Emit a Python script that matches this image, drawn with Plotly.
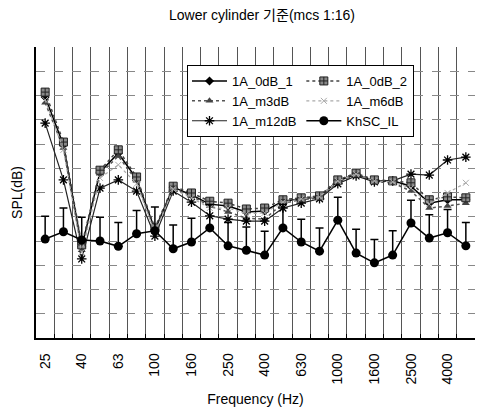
import plotly.graph_objects as go

freq = ["25", "31.5", "40", "50", "63", "80", "100", "125", "160", "200", "250", "315",
        "400", "500", "630", "800", "1000", "1250", "1600", "2000", "2500", "3150", "4000", "5000"]
tick_text = ["25", "", "40", "", "63", "", "100", "", "160", "", "250", "",
             "400", "", "630", "", "1000", "", "1600", "", "2500", "", "4000", ""]

a_0db_1 = [89.7, 79.8, 58.8, 74.2, 78.1, 72.8, 62.3, 71.1, 69.5, 67.6, 67.2, 66.0,
           66.2, 68.2, 68.7, 69.1, 72.4, 73.8, 72.4, 72.4, 71.3, 67.8, 68.5, 68.5]
a_0db_2 = [90.7, 80.4, 59.2, 74.6, 78.8, 73.2, 62.7, 71.3, 69.9, 68.2, 67.8, 66.6,
           66.8, 68.5, 68.9, 69.3, 72.6, 74.0, 72.6, 72.4, 72.0, 68.5, 69.1, 68.9]
a_m3db = [88.5, 79.2, 58.1, 73.8, 77.5, 72.4, 61.9, 70.9, 69.3, 67.2, 66.0, 64.7,
          64.5, 67.8, 68.5, 68.9, 72.2, 73.6, 72.2, 72.0, 70.3, 66.8, 67.2, 67.8]
a_m6db = [89.1, 78.8, 57.7, 73.0, 75.7, 71.8, 61.7, 70.7, 68.9, 66.8, 66.8, 65.6,
          65.8, 68.0, 68.7, 69.1, 72.4, 73.8, 72.4, 72.2, 70.9, 67.6, 69.9, 72.0]
a_m12db = [84.3, 72.6, 56.3, 70.9, 72.6, 70.3, 61.0, 70.3, 68.0, 65.2, 64.5, 64.1,
           64.1, 66.8, 67.8, 68.7, 71.8, 73.4, 72.2, 72.4, 73.8, 73.6, 76.7, 77.3]
khsc_il = [60.4, 61.9, 60.2, 60.0, 58.9, 61.5, 62.1, 58.4, 59.8, 62.7, 59.0, 58.1,
           57.1, 62.7, 59.8, 57.9, 64.3, 57.5, 55.5, 57.1, 63.7, 60.6, 61.7, 59.0]
khsc_err = [4.7, 4.9, 4.7, 4.9, 4.9, 4.8, 4.9, 4.9, 4.9, 4.8, 4.8, 4.8,
            4.9, 4.8, 4.7, 4.8, 4.7, 4.9, 4.8, 5.0, 4.7, 4.8, 4.8, 4.8]

FONT = "Liberation Sans, Arial, Noto Sans CJK KR, sans-serif"

fig = go.Figure()
fig.add_trace(go.Scatter(x=freq, y=a_0db_1, name="1A_0dB_1", mode="lines+markers",
                         legendgroup="c1", line=dict(color="black", width=1.5),
                         marker=dict(symbol="diamond", size=7, color="black")))
fig.add_trace(go.Scatter(x=freq, y=a_m3db, name="1A_m3dB", mode="lines+markers",
                         legendgroup="c1", line=dict(color="#555555", width=1.5, dash="dot"),
                         marker=dict(symbol="triangle-up", size=7, color="#444444")))
fig.add_trace(go.Scatter(x=freq, y=a_m12db, name="1A_m12dB", mode="lines+markers",
                         legendgroup="c1", line=dict(color="#222222", width=1.2),
                         marker=dict(symbol="asterisk-open", size=8, color="black",
                                     line=dict(color="black", width=1.3))))
fig.add_trace(go.Scatter(x=freq, y=a_0db_2, name="1A_0dB_2", mode="lines+markers",
                         legendgroup="c2", line=dict(color="#444444", width=1.5, dash="dot"),
                         marker=dict(symbol="square-cross", size=8, color="#888888",
                                     line=dict(color="#222222", width=1))))
fig.add_trace(go.Scatter(x=freq, y=a_m6db, name="1A_m6dB", mode="lines+markers",
                         legendgroup="c2", line=dict(color="#aaaaaa", width=1.2, dash="dot"),
                         marker=dict(symbol="x-thin-open", size=6, color="#aaaaaa",
                                     line=dict(color="#aaaaaa", width=1))))
fig.add_trace(go.Scatter(x=freq, y=khsc_il, name="KhSC_IL", mode="lines+markers",
                         legendgroup="c2", line=dict(color="black", width=1.5),
                         marker=dict(symbol="circle", size=9, color="black"),
                         error_y=dict(type="data", array=khsc_err, symmetric=False,
                                      color="black", thickness=1.5, width=4)))

fig.update_layout(
    width=477, height=409,
    margin=dict(l=36, r=2, t=47, b=71),
    paper_bgcolor="white", plot_bgcolor="white",
    font=dict(family=FONT, size=14, color="black"),
    title=dict(text="Lower cylinder 기준(mcs 1:16)", x=262 / 477, xref="container",
               xanchor="center", y=1 - 15 / 409, yref="container", yanchor="middle",
               font=dict(size=14, color="black")),
    showlegend=True,
    legend=dict(orientation="h", traceorder="grouped", x=(187 - 36) / 439, y=(338 - 65) / 291,
                xanchor="left", yanchor="top", bgcolor="white", bordercolor="black",
                borderwidth=1, font=dict(size=13), itemwidth=35, tracegroupgap=10),
    xaxis=dict(type="category", categoryorder="array", categoryarray=freq,
               tickmode="array", tickvals=freq, ticktext=tick_text, tickangle=-90,
               tickson="boundaries", ticks="inside", ticklen=4, tickcolor="black",
               showgrid=True, gridcolor="#555555", gridwidth=1,
               showline=True, linecolor="black", linewidth=1.5,
               range=[-0.5, 23.5], ticklabelstandoff=8,
               title=dict(text="Frequency (Hz)", standoff=11, font=dict(size=14))),
    yaxis=dict(range=[40, 100], dtick=5, showticklabels=False, showgrid=True,
               gridcolor="#888888", griddash="dash", gridwidth=1, zeroline=False,
               showline=True, linecolor="black", linewidth=1.5, ticks="",
               title=dict(text="SPL(dB)", standoff=8, font=dict(size=14))),
)

fig.write_html("out.html", config={"displayModeBar": False},
               post_script="document.body.style.margin='0';document.body.style.overflow='hidden';")
